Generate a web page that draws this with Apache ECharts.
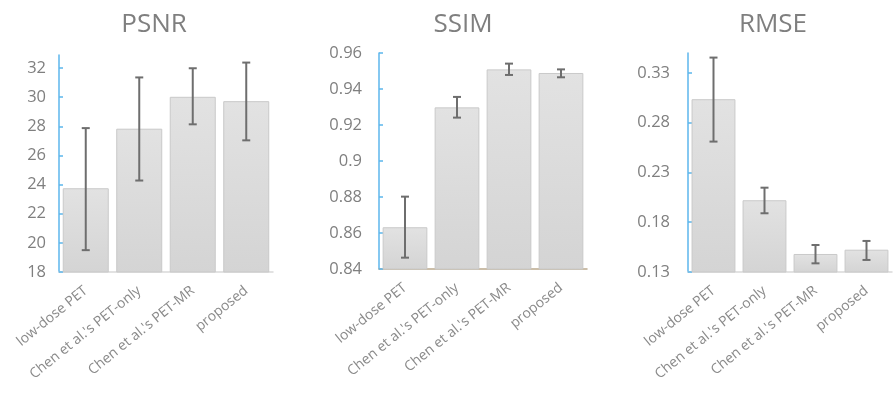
<!DOCTYPE html>
<html>
<head>
<meta charset="utf-8">
<title>PSNR / SSIM / RMSE</title>
<script src="https://cdn.jsdelivr.net/npm/echarts@6/dist/echarts.min.js"></script>
<style>
  html, body { margin: 0; padding: 0; background: #ffffff; }
  #chart { width: 893px; height: 393px; }
</style>
</head>
<body>
<div id="chart"></div>
<script>
// Methods compared in each panel
const categories = ['low-dose PET', "Chen et al.'s PET-only", "Chen et al.'s PET-MR", 'proposed'];

// PSNR (dB): mean with lower / upper error bounds
const psnrMean = [23.75, 27.84, 30.03, 29.73];
const psnrLow  = [19.50, 24.28, 28.14, 27.04];
const psnrHigh = [27.88, 31.36, 31.99, 32.38];
const psnrTicks = [18, 20, 22, 24, 26, 28, 30, 32];

// SSIM
const ssimMean = [0.8632, 0.9298, 0.9509, 0.9489];
const ssimLow  = [0.8463, 0.9241, 0.9478, 0.9465];
const ssimHigh = [0.8802, 0.9356, 0.9541, 0.9509];
const ssimTicks = [0.84, 0.86, 0.88, 0.9, 0.92, 0.94, 0.96];

// RMSE
const rmseMean = [0.3036, 0.2021, 0.1481, 0.1524];
const rmseLow  = [0.2610, 0.1890, 0.1387, 0.1421];
const rmseHigh = [0.3454, 0.2147, 0.1571, 0.1612];
const rmseTicks = [0.13, 0.18, 0.23, 0.28, 0.33];

const FONT = 'Open Sans';
const TEXT = '#7f7f7f';
const BLUE = '#5cb6ec';

const panels = [
  { title: 'PSNR', titleX: 149, mean: psnrMean, low: psnrLow, high: psnrHigh, ticks: psnrTicks,
    min: 18, max: 32.9, grid: { left: 59, top: 55, width: 214, height: 217 },
    labelMargin: 13, baseLine: '#d9d9d9' },
  { title: 'SSIM', titleX: 458, mean: ssimMean, low: ssimLow, high: ssimHigh, ticks: ssimTicks,
    min: 0.84, max: 0.96, grid: { left: 379, top: 53, width: 208, height: 216 },
    labelMargin: 17, baseLine: '#bba98d' },
  { title: 'RMSE', titleX: 768, mean: rmseMean, low: rmseLow, high: rmseHigh, ticks: rmseTicks,
    min: 0.13, max: 0.35, grid: { left: 688, top: 53, width: 204, height: 219 },
    labelMargin: 18, baseLine: '#d9d9d9' }
];

const option = {
  animation: false,
  backgroundColor: '#ffffff',
  title: [],
  grid: [],
  xAxis: [],
  yAxis: [],
  series: []
};

// Error bar: vertical whisker with short horizontal caps
function errorBarItem(params, api) {
  const x = api.value(0);
  const lo = api.coord([x, api.value(1)]);
  const hi = api.coord([x, api.value(2)]);
  const cap = 4;
  const style = { stroke: '#6e6e6e', lineWidth: 2, fill: null };
  return {
    type: 'group',
    children: [
      { type: 'line', shape: { x1: lo[0], y1: lo[1], x2: hi[0], y2: hi[1] }, style },
      { type: 'line', shape: { x1: lo[0] - cap, y1: lo[1], x2: lo[0] + cap, y2: lo[1] }, style },
      { type: 'line', shape: { x1: hi[0] - cap, y1: hi[1], x2: hi[0] + cap, y2: hi[1] }, style }
    ]
  };
}

panels.forEach((p, i) => {
  option.title.push({
    text: p.title,
    left: p.titleX,
    top: 7,
    textAlign: 'center',
    textStyle: { fontFamily: FONT, fontSize: 26, fontWeight: 'normal', color: TEXT }
  });
  option.grid.push(Object.assign({ containLabel: false }, p.grid));
  option.xAxis.push({
    type: 'category',
    gridIndex: i,
    data: categories,
    axisLine: { show: true, lineStyle: { color: p.baseLine, width: 1.5 } },
    axisTick: { show: false },
    axisLabel: {
      interval: 0, rotate: 39, margin: 17,
      fontFamily: FONT, fontSize: 14, color: '#8a8a8a'
    }
  });
  option.yAxis.push({
    type: 'value',
    gridIndex: i,
    min: p.min, max: p.max,
    axisLine: { show: true, lineStyle: { color: BLUE, width: 1.5 } },
    axisTick: { show: true, inside: true, length: 4, customValues: p.ticks,
                lineStyle: { color: BLUE, width: 1.5 } },
    axisLabel: { customValues: p.ticks, margin: p.labelMargin,
                 fontFamily: FONT, fontSize: 16.5, color: TEXT },
    splitLine: { show: false }
  });
  option.series.push({
    type: 'bar',
    xAxisIndex: i, yAxisIndex: i,
    data: p.mean,
    barWidth: '86%',
    itemStyle: {
      color: new echarts.graphic.LinearGradient(0, 0, 0, 1, [
        { offset: 0, color: '#e2e2e2' },
        { offset: 1, color: '#d4d4d4' }
      ]),
      borderColor: '#c9c9c9',
      borderWidth: 1
    }
  });
  option.series.push({
    type: 'custom',
    xAxisIndex: i, yAxisIndex: i,
    renderItem: errorBarItem,
    encode: { x: 0, y: [1, 2] },
    data: p.mean.map((_, k) => [k, p.low[k], p.high[k]]),
    z: 10
  });
});

const chart = echarts.init(document.getElementById('chart'), null, { renderer: 'canvas' });
chart.setOption(option);
</script>
</body>
</html>
